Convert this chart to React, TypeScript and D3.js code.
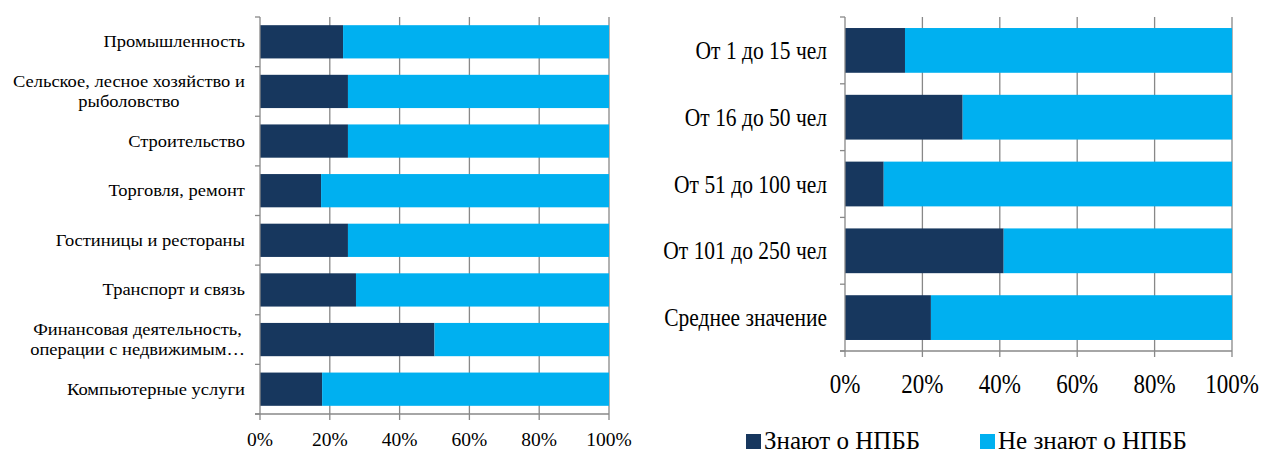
import React from "react";
import * as d3 from "d3";

const leftCategories = [
  ["Промышленность"],
  ["Сельское, лесное хозяйство и", "рыболовство"],
  ["Строительство"],
  ["Торговля, ремонт"],
  ["Гостиницы и рестораны"],
  ["Транспорт и связь"],
  ["Финансовая деятельность,", "операции с недвижимым…"],
  ["Компьютерные услуги"],
];
const leftKnow = [0.238, 0.252, 0.252, 0.175, 0.252, 0.275, 0.5, 0.178];

const rightCategories = [
  ["От 1 до 15 чел"],
  ["От 16 до 50 чел"],
  ["От 51 до 100 чел"],
  ["От 101 до 250 чел"],
  ["Среднее значение"],
];
const rightKnow = [0.155, 0.304, 0.1, 0.41, 0.222];

const tickValues = [0, 0.2, 0.4, 0.6, 0.8, 1];
const legendLabels = ["Знают о НПББ", "Не знают о НПББ"];

const DARK = "#17375E";
const LIGHT = "#00B0F0";
const GRID = "#888888";
const FONT = "Liberation Serif";

let ctx: CanvasRenderingContext2D | null = null;
function measure(text: string, size: number): number {
  if (typeof document !== "undefined") {
    if (!ctx) ctx = document.createElement("canvas").getContext("2d");
    if (ctx) {
      ctx.font = `${size}px "${FONT}"`;
      return ctx.measureText(text).width;
    }
  }
  return text.length * size * 0.5;
}

type PanelCfg = {
  cats: string[][];
  know: number[];
  x0: number;
  x1: number;
  y0: number;
  y1: number;
  labelRight: number;
  labelSize: number;
  labelSy: number;
  lineHeight: number;
  tickSize: number;
  tickSy: number;
  tickY: number;
};

function Panel({ c }: { c: PanelCfg }) {
  const x = d3.scaleLinear().domain([0, 1]).range([c.x0, c.x1]);
  const y = d3
    .scaleBand<number>()
    .domain(d3.range(c.cats.length))
    .range([c.y0, c.y1])
    .paddingInner(0.33)
    .paddingOuter(0.165);
  const step = y.step();
  const fmt = d3.format(".0%");
  return (
    <g>
      {tickValues.slice(1).map((t) => (
        <line key={"g" + t} x1={x(t)} x2={x(t)} y1={c.y0} y2={c.y1 + 6} stroke={GRID} strokeWidth={1.3} />
      ))}
      {c.know.map((k, i) => (
        <g key={"b" + i}>
          <rect x={x(0)} y={y(i)} width={x(k) - x(0)} height={y.bandwidth()} fill={DARK} />
          <rect x={x(k)} y={y(i)} width={x(1) - x(k)} height={y.bandwidth()} fill={LIGHT} />
        </g>
      ))}
      <line x1={x(0)} x2={x(0)} y1={c.y0} y2={c.y1 + 6} stroke={GRID} strokeWidth={1.3} />
      {d3.range(c.cats.length + 1).map((i) => (
        <line key={"yt" + i} x1={x(0) - 5} x2={x(0)} y1={c.y0 + i * step} y2={c.y0 + i * step} stroke={GRID} strokeWidth={1.3} />
      ))}
      <line x1={x(0) - 5} x2={x(1)} y1={c.y1} y2={c.y1} stroke={GRID} strokeWidth={1.3} />
      {tickValues.map((t) => (
        <text
          key={"tl" + t}
          transform={`translate(${x(t)},${c.tickY}) scale(1,${c.tickSy})`}
          textAnchor="middle"
          fontSize={c.tickSize}
          style={{ fontFamily: FONT }}
          fill="#000"
        >
          {fmt(t)}
        </text>
      ))}
      {c.cats.map((lines, i) => {
        const cy = (y(i) as number) + y.bandwidth() / 2;
        const maxW = d3.max(lines, (l) => measure(l, c.labelSize)) || 0;
        const center = c.labelRight - maxW / 2;
        const n = lines.length;
        return (
          <g key={"cl" + i}>
            {lines.map((ln, j) => {
              const by = cy + (j - (n - 1) / 2) * c.lineHeight + c.labelSize * 0.33 * c.labelSy;
              return (
                <text
                  key={j}
                  transform={`translate(${center},${by}) scale(1,${c.labelSy})`}
                  textAnchor="middle"
                  fontSize={c.labelSize}
                  style={{ fontFamily: FONT }}
                  fill="#000"
                >
                  {ln}
                </text>
              );
            })}
          </g>
        );
      })}
    </g>
  );
}

const leftCfg: PanelCfg = {
  cats: leftCategories,
  know: leftKnow,
  x0: 260,
  x1: 609,
  y0: 17,
  y1: 414,
  labelRight: 245,
  labelSize: 18.5,
  labelSy: 0.9,
  lineHeight: 20,
  tickSize: 19.5,
  tickSy: 1,
  tickY: 446,
};
const rightCfg: PanelCfg = {
  cats: rightCategories,
  know: rightKnow,
  x0: 845,
  x1: 1232,
  y0: 17,
  y1: 351,
  labelRight: 827,
  labelSize: 21.5,
  labelSy: 1.2,
  lineHeight: 24,
  tickSize: 23,
  tickSy: 1.22,
  tickY: 393,
};

const legendItems = [
  { label: legendLabels[0], color: DARK, x: 746 },
  { label: legendLabels[1], color: LIGHT, x: 980 },
];

export default function App() {
  return (
    <svg
      width={1264}
      height={453}
      style={{ position: "absolute", left: 0, top: 0, background: "#fff" }}
    >
      <Panel c={leftCfg} />
      <Panel c={rightCfg} />
      {legendItems.map((it) => (
        <g key={it.label}>
          <rect x={it.x} y={434} width={15} height={15} fill={it.color} />
          <text x={it.x + 18} y={449} fontSize={25} style={{ fontFamily: FONT }} fill="#000">
            {it.label}
          </text>
        </g>
      ))}
    </svg>
  );
}
